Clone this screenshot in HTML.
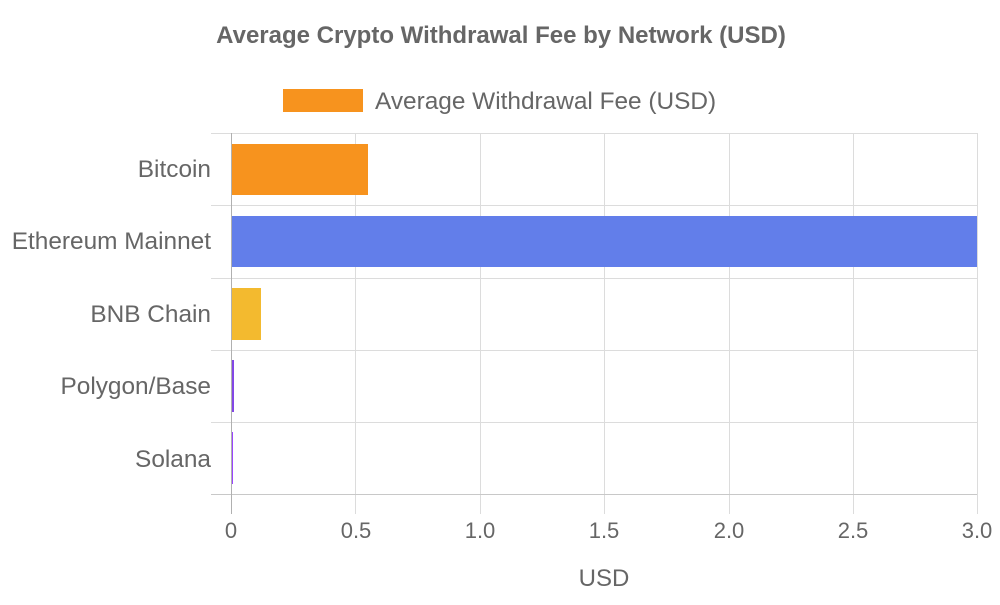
<!DOCTYPE html>
<html><head><style>
body{margin:0;background:#fff;}
svg text{font-family:"Liberation Sans",sans-serif;fill:#666;}
</style></head><body>
<svg width="1000" height="600" xmlns="http://www.w3.org/2000/svg">
<text x="501" y="43" text-anchor="middle" font-size="24" font-weight="bold">Average Crypto Withdrawal Fee by Network (USD)</text>
<rect x="283" y="89" width="80" height="23" fill="#f7931e"/>
<text x="375" y="109" font-size="24.4">Average Withdrawal Fee (USD)</text>
<g stroke="#dcdcdc" stroke-width="1">
<line x1="211" y1="133.5" x2="977" y2="133.5"/>
<line x1="211" y1="205.5" x2="977" y2="205.5"/>
<line x1="211" y1="278.5" x2="977" y2="278.5"/>
<line x1="211" y1="350.5" x2="977" y2="350.5"/>
<line x1="211" y1="422.5" x2="977" y2="422.5"/>
<line x1="355.5" y1="133" x2="355.5" y2="514"/>
<line x1="480.5" y1="133" x2="480.5" y2="514"/>
<line x1="604.5" y1="133" x2="604.5" y2="514"/>
<line x1="729.5" y1="133" x2="729.5" y2="514"/>
<line x1="853.5" y1="133" x2="853.5" y2="514"/>
<line x1="977.5" y1="133" x2="977.5" y2="514"/>
</g>
<rect x="231" y="144" width="137" height="51" fill="#f7931e"/>
<rect x="231" y="216" width="746" height="51" fill="#627eea"/>
<rect x="231" y="288" width="30" height="52" fill="#f3ba2f"/>
<rect x="231" y="360" width="3" height="52" fill="#8247e5"/>
<rect x="231" y="432" width="2" height="52" fill="#9945ff"/>
<line x1="211" y1="494.5" x2="977" y2="494.5" stroke="#c8c8c8"/>
<line x1="231.5" y1="133" x2="231.5" y2="514" stroke="#b0b0b0"/>
<g font-size="24.4" text-anchor="end">
<text x="211" y="177">Bitcoin</text>
<text x="211" y="249">Ethereum Mainnet</text>
<text x="211" y="322">BNB Chain</text>
<text x="211" y="394">Polygon/Base</text>
<text x="211" y="467">Solana</text>
</g>
<g font-size="22" text-anchor="middle">
<text x="231" y="538">0</text>
<text x="356" y="538">0.5</text>
<text x="480" y="538">1.0</text>
<text x="604" y="538">1.5</text>
<text x="729" y="538">2.0</text>
<text x="853" y="538">2.5</text>
<text x="977" y="538">3.0</text>
<text x="604" y="586" font-size="24">USD</text>
</g>
</svg>
</body></html>
